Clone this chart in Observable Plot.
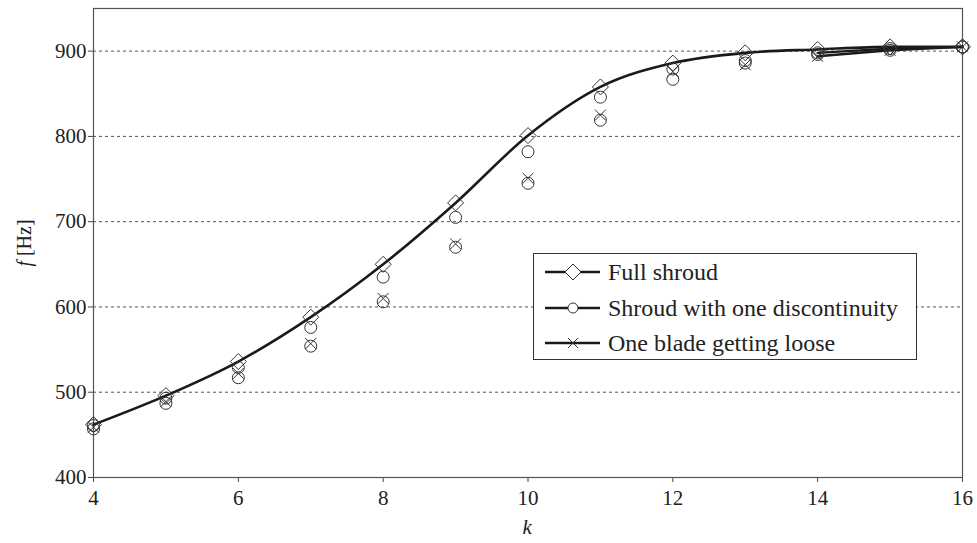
<!DOCTYPE html>
<html>
<head>
<meta charset="utf-8">
<script src="https://cdn.jsdelivr.net/npm/d3@7"></script>
<script src="https://cdn.jsdelivr.net/npm/@observablehq/plot@0.6"></script>
</head>
<body style="margin:0;background:#fff">
<div id="wrap" style="position:relative;width:977px;height:543px;font-family:'Liberation Serif';color:#222">
  <div id="ktitle" style="position:absolute;left:522px;top:515px;font-size:21px;line-height:24px;font-family:'Liberation Serif'"><i>k</i></div>
  <div id="ftitle" style="position:absolute;left:24px;top:242px;font-size:20px;line-height:24px;white-space:nowrap;font-family:'Liberation Serif';transform:translate(-50%,-50%) rotate(-90deg)"><i>f</i> [Hz]</div>
  <div id="legend" style="position:absolute;left:533px;top:253px;width:384px;height:107px;box-sizing:border-box;border:1.2px solid #333;background:#fff;z-index:2">
    <div class="row" style="position:absolute;left:0;top:3px;height:30px;display:flex;align-items:center"><span class="sw"></span><span style="font-size:24px;line-height:30px;margin-left:7px;white-space:nowrap;font-family:'Liberation Serif'">Full shroud</span></div>
    <div class="row" style="position:absolute;left:0;top:38.5px;height:30px;display:flex;align-items:center"><span class="sw"></span><span style="font-size:24px;line-height:30px;margin-left:7px;white-space:nowrap;font-family:'Liberation Serif'">Shroud with one discontinuity</span></div>
    <div class="row" style="position:absolute;left:0;top:74px;height:30px;display:flex;align-items:center"><span class="sw"></span><span style="font-size:24px;line-height:30px;margin-left:7px;white-space:nowrap;font-family:'Liberation Serif'">One blade getting loose</span></div>
  </div>
  <div id="chart"></div>
</div>
<script>
// Nodal diameter k and natural frequency f [Hz] for each shroud condition
const orders = [4, 5, 6, 7, 8, 9, 10, 11, 12, 13, 14, 15, 16];
const fullShroud       = [462, 496, 536, 588, 650, 722, 801, 858, 886, 898, 902, 905, 905];
const oneDiscontinuity = [461, 493, 529, 576, 635, 705, 782, 846, 879, 889, 898, 903, 905];
const bladeLoose       = [459, 489, 522, 557, 610, 674, 751, 825, 876, 884, 894, 901, 905];
const bladeLooseRing   = [457, 487, 517, 554, 606, 670, 745, 819, 867, 886, 896, 901, 905];

const xTicks = [4, 6, 8, 10, 12, 14, 16];
const yTicks = [400, 500, 600, 700, 800, 900];

// Marker shapes (size is the symbol area, r recovered from it)
const diamondSym = {
  draw(ctx, size) {
    const r = Math.sqrt(size / Math.PI);
    ctx.moveTo(0, -r); ctx.lineTo(r, 0); ctx.lineTo(0, r); ctx.lineTo(-r, 0); ctx.closePath();
  }
};
const crossSym = {
  draw(ctx, size) {
    const r = Math.sqrt(size / Math.PI);
    ctx.moveTo(-r, -r); ctx.lineTo(r, r);
    ctx.moveTo(r, -r); ctx.lineTo(-r, r);
  }
};
const circleSym = {
  draw(ctx, size) {
    const r = Math.sqrt(size / Math.PI);
    ctx.moveTo(r, 0); ctx.arc(0, 0, r, 0, 2 * Math.PI);
  }
};

const rows = (vals) => orders.map((k, i) => ({k, f: vals[i]}));
const full = rows(fullShroud);
const disc = rows(oneDiscontinuity);
const loose = rows(bladeLoose);
const looseRing = rows(bladeLooseRing);

const ink = "#1a1a1a";
const markInk = "#333";
const serif = "Liberation Serif";

const chart = Plot.plot({
  width: 977,
  height: 543,
  marginLeft: 93,
  marginRight: 15,
  marginTop: 8,
  marginBottom: 66,
  style: {fontFamily: serif, fontSize: "21px", color: "#222", background: "#fff", display: "block"},
  x: {domain: [4, 16]},
  y: {domain: [400, 950]},
  marks: [
    Plot.gridY(yTicks.filter(v => v > 400), {stroke: "#555", strokeOpacity: 1, strokeDasharray: "3,3"}),
    Plot.axisX({ticks: xTicks, tickSize: 5, tickPadding: 8, label: null, stroke: "#444", fontSize: 21}),
    Plot.axisY({ticks: yTicks, tickSize: 5, tickPadding: 2, label: null, stroke: "#444", fontSize: 21}),
    Plot.frame({stroke: "#555", strokeWidth: 1.2}),
    // discontinuity and loose-blade curves traced over the highest orders
    Plot.line(disc.filter(d => d.k >= 14), {x: "k", y: "f", stroke: ink, strokeWidth: 2.4}),
    Plot.line(loose.filter(d => d.k >= 14), {x: "k", y: "f", stroke: ink, strokeWidth: 2.4}),
    Plot.line(full, {x: "k", y: "f", stroke: ink, strokeWidth: 2.6, curve: "monotone-x"}),
    Plot.dot(looseRing, {x: "k", y: "f", symbol: circleSym, r: 6, stroke: markInk, strokeWidth: 1, fill: "none"}),
    Plot.dot(loose, {x: "k", y: "f", symbol: crossSym, r: 5.5, stroke: markInk, strokeWidth: 1, fill: "none"}),
    Plot.dot(disc, {x: "k", y: "f", symbol: circleSym, r: 6, stroke: markInk, strokeWidth: 1, fill: "none"}),
    Plot.dot(full, {x: "k", y: "f", symbol: diamondSym, r: 8, stroke: markInk, strokeWidth: 1, fill: "none"})
  ]
});

document.getElementById("chart").appendChild(chart);

// Centre the axis titles on the plot frame
const [x0, x1] = chart.scale("x").range, [yb, yt] = chart.scale("y").range;
document.getElementById("ktitle").style.left = `${(x0 + x1) / 2 - 5}px`;
document.getElementById("ftitle").style.top = `${(yb + yt) / 2}px`;

// Line-and-marker swatches for the legend rows
const legendSymbols = [
  {sym: diamondSym, r: 8},
  {sym: circleSym, r: 5},
  {sym: crossSym, r: 5}
];
document.querySelectorAll("#legend .sw").forEach((slot, i) => {
  const sw = d3.create("svg").attr("width", 67).attr("height", 30).style("display", "block");
  sw.append("line").attr("x1", 11).attr("x2", 66).attr("y1", 15).attr("y2", 15)
    .attr("stroke", ink).attr("stroke-width", 2.6);
  const s = legendSymbols[i];
  sw.append("path")
    .attr("d", d3.symbol().type(s.sym).size(Math.PI * s.r * s.r)())
    .attr("transform", "translate(39,15)")
    .attr("fill", "#fff").attr("stroke", markInk).attr("stroke-width", 1);
  slot.appendChild(sw.node());
});
</script>
</body>
</html>
